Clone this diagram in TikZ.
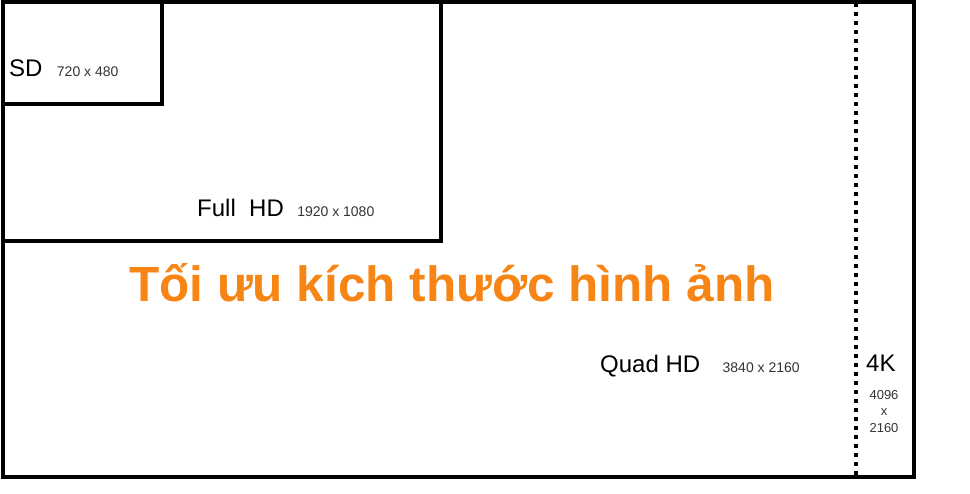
\documentclass[tikz,border=0pt]{standalone}
\usepackage{fontspec}
\setmainfont{Liberation Sans}
\usepackage{xcolor}
\usetikzlibrary{positioning}
\definecolor{titleorange}{RGB}{246,133,22}

\begin{document}
\begin{tikzpicture}[x=1pt, y=-1pt,
        frame/.style={black, line width=3.5pt},
        restext/.style={anchor=base west, inner sep=0pt, font=\fontsize{24}{24}\selectfont},
        sizetext/.style={inner sep=0pt, text=black!80, font=\fontsize{14}{14}\selectfont}]
        \useasboundingbox (0,0) rectangle (970,494);
        \draw [frame] (3,2) rectangle (914,477);
        \draw [frame] (3,2) rectangle (162,104);
        \draw [frame] (3,2) rectangle (441,241);
        \draw [black, line width=4pt, dash pattern=on 4pt off 5pt] (856,3) to (856,476);

        \node [restext] (sd) at (9,77) {SD};
        \node [sizetext, right=14pt of sd.base east, anchor=base west] (sdsize) {720 x 480};

        \node [restext] (fullhd) at (197,217) {Full\ \ HD};
        \node [sizetext, right=13pt of fullhd.base east, anchor=base west] (fullhdsize) {1920 x 1080};

        \node [restext] (quadhd) at (600,373) {Quad HD};
        \node [sizetext, right=22pt of quadhd.base east, anchor=base west] (quadhdsize) {3840 x 2160};

        \node [restext] (fourk) at (866,372) {4K};
        \node [sizetext, anchor=base, align=center, font=\fontsize{13}{16.5}\selectfont] (fourksize) at (884,432) {4096\\x\\2160};

        \node [anchor=base, inner sep=0pt, text=titleorange, font=\fontsize{49.5}{50}\bfseries\selectfont] (title) at (452,302) {Tối ưu kích thước hình ảnh};
    \end{tikzpicture}
\end{document}
